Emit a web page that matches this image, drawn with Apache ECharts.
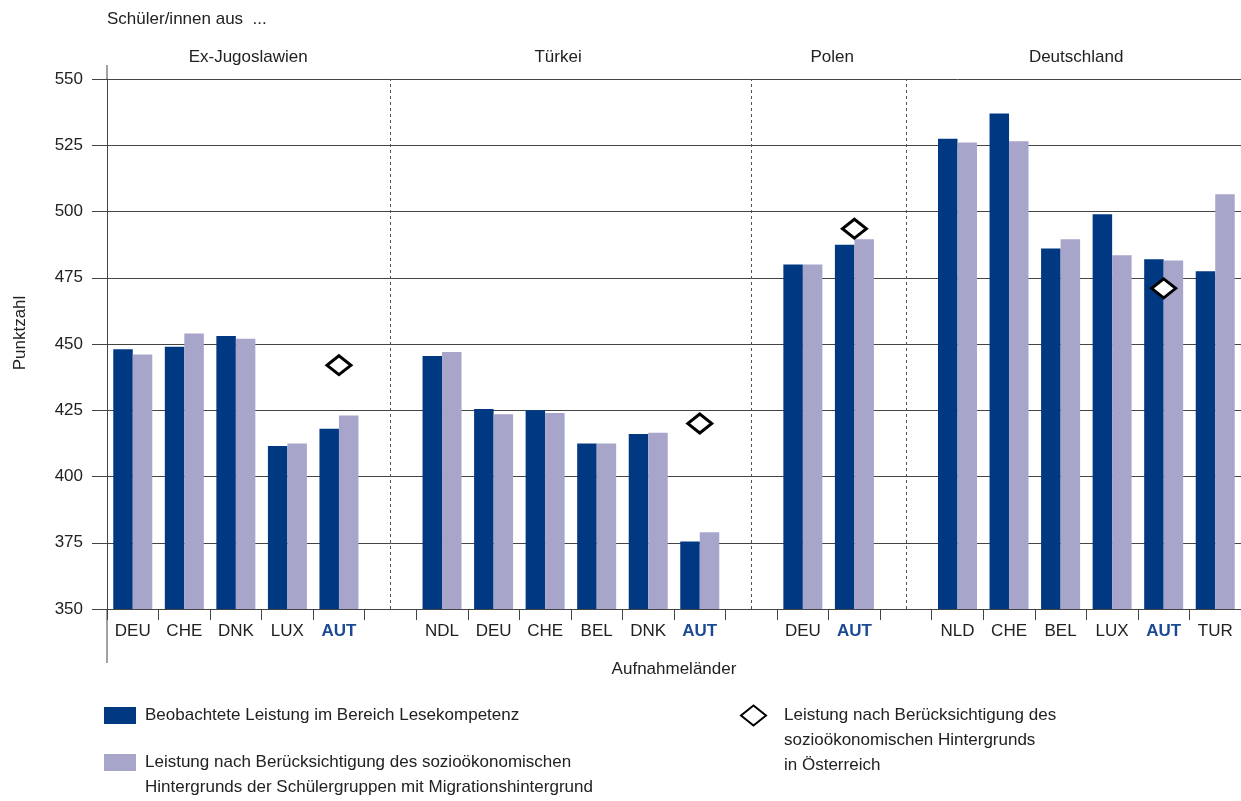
<!DOCTYPE html>
<html>
<head>
<meta charset="utf-8">
<script src="https://cdn.jsdelivr.net/npm/echarts@6/dist/echarts.min.js"></script>
<style>
  html, body { margin: 0; padding: 0; background: #fff; }
  #main { width: 1241px; height: 801px; }
</style>
</head>
<body>
<div id="main"></div>
<script>
// Aufnahmeländer, leere Einträge = Abstand zwischen den Gruppen
var laender = ['DEU', 'CHE', 'DNK', 'LUX', 'AUT', '',
  'NDL', 'DEU', 'CHE', 'BEL', 'DNK', 'AUT', '',
  'DEU', 'AUT', '',
  'NLD', 'CHE', 'BEL', 'LUX', 'AUT', 'TUR'];
var beobachtet = [448, 449, 453, 411.5, 418, null,
  445.5, 425.5, 425, 412.5, 416, 375.5, null,
  480, 487.5, null,
  527.5, 537, 486, 499, 482, 477.5];
var bereinigt = [446, 454, 452, 412.5, 423, null,
  447, 423.5, 424, 412.5, 416.5, 379, null,
  480, 489.5, null,
  526, 526.5, 489.5, 483.5, 481.5, 506.5];
var oesterreich = [null, null, null, null, 442, null,
  null, null, null, null, null, 420, null,
  null, 493.5, null,
  null, null, null, null, 471, null];
var gruppen = ['Ex-Jugoslawien', 'Türkei', 'Polen', 'Deutschland'];
var trenner = [5, 12, 15];  // Index der Lückenkategorien
var yTicks = { min: 350, max: 550, interval: 25 };

var names = [
  'Beobachtete Leistung im Bereich Lesekompetenz',
  'Leistung nach Berücksichtigung des sozioökonomischen Hintergrunds der Schülergruppen mit Migrationshintergrund',
  'Leistung nach Berücksichtigung des sozioökonomischen Hintergrunds in Österreich'
];
// Leerzeilen vorne, damit die erste Zeile auf Höhe des Symbols steht
var legendText = {};
legendText[names[0]] = names[0];
legendText[names[1]] = '\nLeistung nach Berücksichtigung des sozioökonomischen\nHintergrunds der Schülergruppen mit Migrationshintergrund';
legendText[names[2]] = '\n\nLeistung nach Berücksichtigung des\nsozioökonomischen Hintergrunds\nin Österreich';

var FONT = 'Liberation Sans';
var TXT = '#222';
var LINE = '#444';
var gLeft = 107, gTop = 79, gWidth = 1142, gHeight = 530;
var catW = gWidth / laender.length;
// Mitte der Gruppentitel in Kategorie-Einheiten
var gruppenPos = [2.72, 8.69, 13.97, 18.67];

var myChart = echarts.init(document.getElementById('main'));

var graphics = [
  { type: 'text', left: 107, top: 11, style: { text: 'Schüler/innen aus  ...', font: '17px ' + FONT, fill: TXT } },
  { type: 'line', shape: { x1: gLeft, y1: 65, x2: gLeft, y2: gTop }, style: { stroke: LINE, lineWidth: 1 } },
  { type: 'line', shape: { x1: gLeft, y1: gTop + gHeight, x2: gLeft, y2: 663 }, style: { stroke: LINE, lineWidth: 1 } },
  { type: 'text', x: 20, y: 333, rotation: Math.PI / 2,
    style: { text: 'Punktzahl', font: '17px ' + FONT, fill: TXT, align: 'center', verticalAlign: 'middle' } }
];
for (var i = 0; i < gruppen.length; i++) {
  graphics.push({
    type: 'text',
    x: gLeft + catW * gruppenPos[i],
    y: 57,
    style: { text: gruppen[i], font: '17px ' + FONT, fill: TXT, align: 'center', verticalAlign: 'middle' }
  });
}

function legendFmt(n) { return legendText[n]; }

var option = {
  animation: false,
  textStyle: { fontFamily: FONT },
  grid: { left: gLeft, top: gTop, width: gWidth, height: gHeight },
  graphic: graphics,
  legend: [
    {
      data: [names[0]], left: 104, top: 703, padding: 0,
      itemWidth: 32, itemHeight: 17, icon: 'rect', formatter: legendFmt,
      textStyle: { fontSize: 17, color: TXT, lineHeight: 25, padding: [0, 0, 0, 4] }
    },
    {
      data: [names[1]], left: 104, top: 725, padding: 0,
      itemWidth: 32, itemHeight: 17, icon: 'rect', formatter: legendFmt,
      textStyle: { fontSize: 17, color: TXT, lineHeight: 25, padding: [0, 0, 0, 4] }
    },
    {
      data: [names[2]], left: 740, top: 653, padding: 0,
      itemWidth: 25, itemHeight: 20, formatter: legendFmt,
      textStyle: { fontSize: 17, color: TXT, lineHeight: 25, padding: [0, 0, 0, 13] }
    }
  ],
  xAxis: {
    type: 'category',
    data: laender,
    name: 'Aufnahmeländer',
    nameLocation: 'middle',
    nameGap: 52,
    nameTextStyle: { fontSize: 17, color: TXT },
    axisLine: { lineStyle: { color: LINE, width: 1 } },
    axisTick: { show: true, interval: 0, length: 11, lineStyle: { color: LINE, width: 1 } },
    axisLabel: {
      fontSize: 17, color: TXT, margin: 14, interval: 0,
      formatter: function (v) { return v === 'AUT' ? '{a|AUT}' : v; },
      rich: { a: { fontSize: 17, fontWeight: 'bold', color: '#1b4a94' } }
    }
  },
  yAxis: {
    type: 'value',
    min: yTicks.min, max: yTicks.max, interval: yTicks.interval,
    axisLine: { show: true, lineStyle: { color: LINE, width: 1 } },
    axisTick: { show: true, length: 15, lineStyle: { color: LINE } },
    axisLabel: { fontSize: 17, color: TXT, margin: 24 },
    splitLine: { show: true, lineStyle: { color: LINE, width: 1 } }
  },
  series: [
    {
      name: names[0], type: 'bar', data: beobachtet,
      barWidth: 19.5, barGap: '0%',
      itemStyle: { color: '#003882' }
    },
    {
      name: names[1], type: 'bar', data: bereinigt,
      barWidth: 19.5, barGap: '0%',
      itemStyle: { color: '#a7a5ca' }
    },
    {
      name: names[2], type: 'scatter', data: oesterreich,
      symbol: 'diamond', symbolSize: [24, 19], z: 5,
      itemStyle: { color: '#fff', borderColor: '#000', borderWidth: 3, opacity: 1 },
      markLine: {
        silent: true, symbol: 'none', label: { show: false },
        lineStyle: { color: '#555', type: [3, 3], width: 1 },
        data: trenner.map(function (t) { return { xAxis: t }; })
      }
    }
  ]
};
myChart.setOption(option);
</script>
</body>
</html>
